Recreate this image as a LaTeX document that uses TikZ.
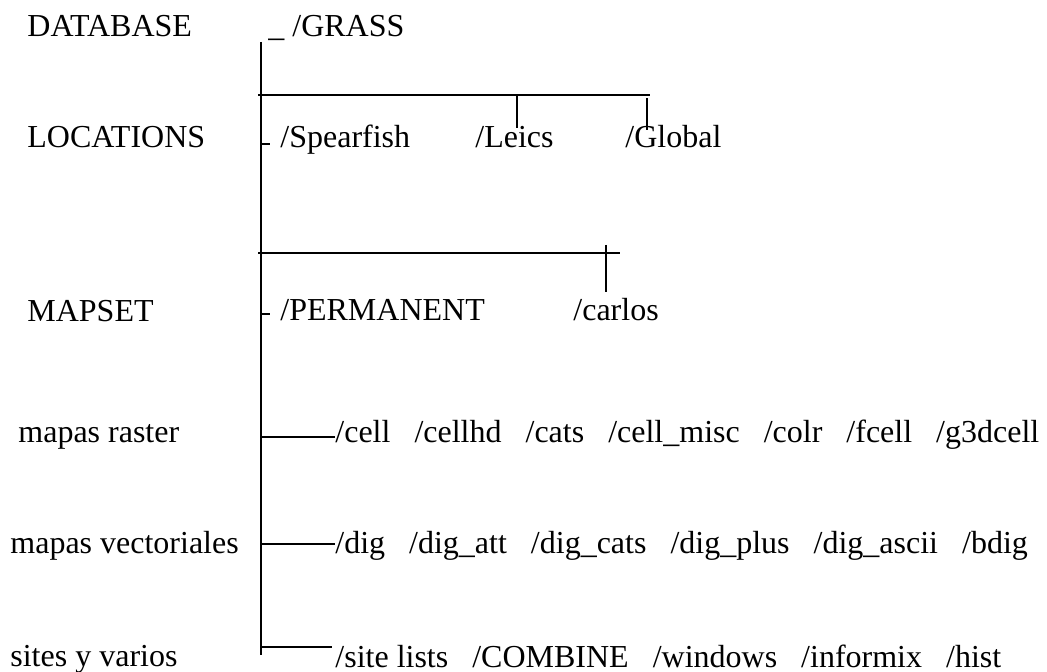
\documentclass[tikz,border=0pt]{standalone}
\usepackage{fontspec}
\setmainfont{Liberation Serif}
\usetikzlibrary{calc}

\tikzset{
  lbl/.style={anchor=base west,inner sep=0pt,font=\fontsize{16}{19}\selectfont},
  trunk/.style={line width=1pt},
  twig/.style={line width=0.8pt},
}

\begin{document}
\begin{tikzpicture}[x=0.5pt,y=-0.5pt]
  \useasboundingbox (0,0) rectangle (1047,672);

  % level names on the left
  \node[lbl] (database)  at (27,37)  {DATABASE};
  \node[lbl] (locations) at (27,148) {LOCATIONS};
  \node[lbl] (mapset)    at (27,322) {MAPSET};
  \node[lbl] (raster)    at (18,443) {mapas raster};
  \node[lbl] (vector)    at (10,553) {mapas vectoriales};
  \node[lbl] (sites)     at (10,666) {sites y varios};

  % directories
  \node[lbl] (grass)     at (268,37)  {\_ /GRASS};
  \node[lbl] (spearfish) at (280,148) {/Spearfish};
  \node[lbl] (leics)     at (475,148) {/Leics};
  \node[lbl] (global)    at (625,148) {/Global};
  \node[lbl] (permanent) at (280,321) {/PERMANENT};
  \node[lbl] (carlos)    at (573,321) {/carlos};
  \node[lbl] (rastfiles) at (335,443) {/cell~~~/cellhd~~~/cats~~~/cell\_misc~~~/colr~~~/fcell~~~/g3dcell};
  \node[lbl] (vectfiles) at (335,553) {/dig~~~/dig\_att~~~/dig\_cats~~~/dig\_plus~~~/dig\_ascii~~~/bdig};
  \node[lbl] (sitefiles) at (335,667) {/site lists~~~/COMBINE~~~/windows~~~/informix~~~/hist};

  % tree lines
  \coordinate (top) at (261,42);
  \coordinate (bottom) at (261,655);
  \coordinate (bar1) at (258,95);
  \coordinate (bar1r) at (650,95);
  \coordinate (bar2) at (258,253);
  \coordinate (bar2r) at (620,253);
  \coordinate (leicsup) at (517,95);
  \coordinate (globalup) at (647,98);
  \coordinate (carlosup) at (606,245);

  \draw[trunk] (top) -- (bottom);
  \draw[twig] (bar1) -- (bar1r);
  \draw[twig] (bar2) -- (bar2r);
  \draw[twig] (leicsup) -- ++(0,33);
  \draw[twig] (globalup) -- ++(0,32);
  \draw[twig] (carlosup) -- ++(0,47);
  \draw[twig] ($(top |- spearfish.base)+(0,-4)$) -- ++(9,0);
  \draw[twig] ($(top |- permanent.base)+(0,-7)$) -- ++(9,0);
  \draw[twig] ($(top |- rastfiles.base)+(0,-6)$) -- ($(rastfiles.base west)+(0,-6)$);
  \draw[twig] ($(top |- vectfiles.base)+(0,-9)$) -- ($(vectfiles.base west)+(0,-9)$);
  \draw[twig] ($(top |- sitefiles.base)+(0,-20)$) -- ($(sitefiles.base west)+(-3,-20)$);
\end{tikzpicture}
\end{document}
